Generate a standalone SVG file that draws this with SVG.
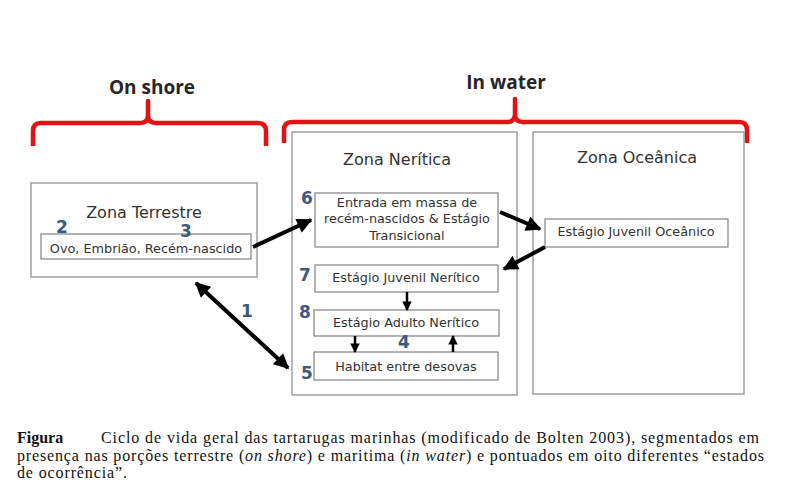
<svg xmlns="http://www.w3.org/2000/svg" width="799" height="494" viewBox="0 0 799 494">
<defs>
<marker id="ah" viewBox="0 0 10 10" refX="9" refY="5" markerWidth="4" markerHeight="3.8" orient="auto-start-reverse" markerUnits="strokeWidth"><path d="M0,0 L10,5 L0,10 z" fill="#000"/></marker>
<marker id="ahs" viewBox="0 0 10 10" refX="9" refY="5" markerWidth="3.8" markerHeight="4.2" orient="auto" markerUnits="strokeWidth"><path d="M0,0 L10,5 L0,10 z" fill="#000"/></marker>
</defs>
<style>
.zone{fill:#fff;stroke:#a0a0a0;stroke-width:1.5}
.box{fill:#fff;stroke:#8c8c8c;stroke-width:1.3}
.t{font-family:"DejaVu Sans",Verdana,sans-serif;fill:#333;text-anchor:middle}
.zt{font-size:16px}
.bt{font-size:12.8px}
.num{font-family:"DejaVu Sans",Verdana,sans-serif;font-weight:bold;font-size:17px;fill:#3d5a7a;text-anchor:middle}
.hdr{font-family:"Open Sans","Liberation Sans",sans-serif;font-weight:bold;font-size:19px;fill:#262626;text-anchor:middle}
.br{fill:none;stroke:#e41212;stroke-width:4.5;stroke-linejoin:round;stroke-linecap:butt}
.big{stroke:#000;stroke-width:4;fill:none;marker-end:url(#ah)}
.sm{stroke:#000;stroke-width:2.5;fill:none;marker-end:url(#ahs)}
.cap{font-family:"Liberation Serif","Times New Roman",serif;font-size:16px;fill:#111}
</style>

<g id="brackets">
<text class="hdr" x="152" y="94">On shore</text>
<path class="br" d="M33,146 L33,131 Q33,123 41,123 L140,123 Q148,123 148,115 L148,101 L148,115 Q148,123 156,123 L258,123 Q266,123 266,131 L266,146"/>
<text class="hdr" x="506" y="89">In water</text>
<path class="br" d="M284,143 L284,130 Q284,122 292,122 L507,122 Q515,122 515,114 L515,99 L515,114 Q515,122 523,122 L739,122 Q747,122 747,130 L747,143"/>
</g>

<g id="zona-terrestre">
<rect class="zone" x="31" y="183" width="226" height="94"/>
<text class="t zt" x="144" y="217.5">Zona Terrestre</text>
</g>
<g id="ovo">
<rect class="box" x="41" y="234" width="210" height="25"/>
<text class="t bt" x="146" y="252.5">Ovo, Embrião, Recém-nascido</text>
</g>

<g id="zona-neritica">
<rect class="zone" x="292" y="132" width="225" height="263"/>
<text class="t zt" x="397" y="165">Zona Nerítica</text>
</g>
<g id="entrada">
<rect class="box" x="315" y="193" width="183" height="54"/>
<text class="t bt" x="407" y="207">Entrada em massa de</text>
<text class="t bt" x="407" y="223">recém-nascidos &amp; Estágio</text>
<text class="t bt" x="407" y="240">Transicional</text>
</g>
<g id="juvenil-neritico">
<rect class="box" x="315" y="265" width="183" height="27"/>
<text class="t bt" x="406" y="282">Estágio Juvenil Nerítico</text>
</g>
<g id="adulto-neritico">
<rect class="box" x="314" y="310" width="185" height="26"/>
<text class="t bt" x="406" y="327">Estágio Adulto Nerítico</text>
</g>
<g id="habitat">
<rect class="box" x="314" y="352" width="184" height="28"/>
<text class="t bt" x="406" y="371">Habitat entre desovas</text>
</g>

<g id="zona-oceanica">
<rect class="zone" x="533" y="132" width="211" height="262"/>
<text class="t zt" x="637" y="163">Zona Oceânica</text>
</g>
<g id="juvenil-oceanico">
<rect class="box" x="545" y="219" width="183" height="28"/>
<text class="t bt" x="636" y="236">Estágio Juvenil Oceânico</text>
</g>

<g id="numbers">
<text class="num" x="62" y="233">2</text>
<text class="num" x="186" y="236.5" font-size="16">3</text>
<text class="num" x="307" y="204">6</text>
<text class="num" x="305" y="281">7</text>
<text class="num" x="305" y="318">8</text>
<text class="num" x="404" y="348">4</text>
<text class="num" x="307" y="379">5</text>
<text class="num" x="247" y="317">1</text>
</g>

<g id="connectors">
<line class="big" x1="253" y1="247" x2="311" y2="220"/>
<line class="big" x1="500" y1="212" x2="540" y2="229"/>
<line class="big" x1="545" y1="247" x2="504" y2="269"/>
<line class="big" x1="196" y1="283" x2="288" y2="368" marker-start="url(#ah)"/>
<line class="sm" x1="407" y1="292" x2="407" y2="310"/>
<line class="sm" x1="355" y1="336" x2="355" y2="352"/>
<line class="sm" x1="453" y1="352" x2="453" y2="336"/>
</g>

<g id="caption">
<text class="cap" x="17" y="443"><tspan font-weight="bold">Figura</tspan></text>
<text class="cap" x="101" y="443" textLength="658" lengthAdjust="spacing">Ciclo de vida geral das tartarugas marinhas (modificado de Bolten 2003), segmentados em</text>
<text class="cap" x="17" y="461" textLength="747" lengthAdjust="spacing">presença nas porções terrestre (<tspan font-style="italic">on shore</tspan>) e maritima (<tspan font-style="italic">in water</tspan>) e pontuados em oito diferentes “estados</text>
<text class="cap" x="17" y="478" textLength="110" lengthAdjust="spacing">de ocorrência”.</text>
</g>
</svg>
